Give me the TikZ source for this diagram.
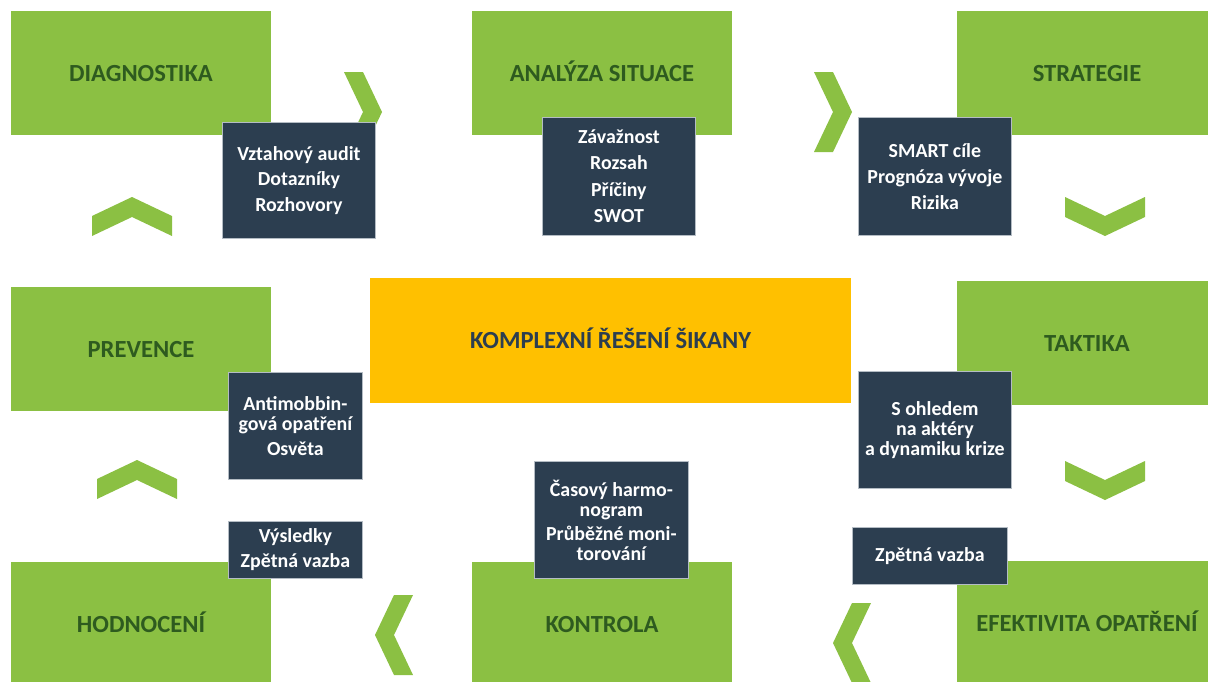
\documentclass[tikz,border=0pt]{standalone}
\usepackage{fontspec}
\setmainfont{Carlito}
\definecolor{zelena}{HTML}{8BC043}
\definecolor{tmava}{HTML}{2C3E50}
\definecolor{zluta}{HTML}{FFC000}
\definecolor{zelenytext}{HTML}{2E5B1F}
\definecolor{okraj}{HTML}{B4BCC4}

\tikzset{
	nadpis/.style={font=\bfseries\fontsize{24.6}{28}\selectfont, text height=16pt, text depth=0pt,
		inner sep=0pt, outer sep=0pt, anchor=north west},
	faze/.style={nadpis, fill=zelena, text=zelenytext, minimum width=260pt, minimum height=124pt},
	detail/.style={fill=tmava, draw=okraj, line width=0.8pt, text=white,
		font=\bfseries\fontsize{19.9}{20}\selectfont, align=center, inner sep=0pt, anchor=north west},
	chevr/.pic={\fill[zelena] (0,0) -- (19,0) -- (38,40) -- (19,80) -- (0,80) -- (19,40) -- cycle;},
	chevd/.pic={\fill[zelena] (0,0) -- (40,19) -- (80,0) -- (80,20) -- (40,39) -- (0,20) -- cycle;}
}

\begin{document}
\begin{tikzpicture}[x=1pt, y=-1pt]
	\useasboundingbox (0,0) rectangle (1208,681);
	\clip (0,0) rectangle (1208,681);
	\fill[white] (0,0) rectangle (1208,681);

	% faze
	\node[faze] (diag) at (11,11) {DIAGNOSTIKA};
	\node[faze] (analyza) at (472,11) {ANALÝZA SITUACE};
	\node[faze] (strategie) at (957,11) {STRATEGIE};
	\node[faze] (taktika) at (957,281) {TAKTIKA};
	\node[faze] (efektivita) at (957,561) {EFEKTIVITA OPATŘENÍ};
	\node[faze] (kontrola) at (472,562) {KONTROLA};
	\node[faze] (hodnoceni) at (11,562) {HODNOCENÍ};
	\node[faze] (prevence) at (11,287) {PREVENCE};

	\node[nadpis, fill=zluta, text=tmava, minimum width=481pt, minimum height=125pt] (stred) at (370,278)
		{KOMPLEXNÍ ŘEŠENÍ ŠIKANY};

	% sipky
	\pic at (344,72) {chevr};
	\pic at (814,72) {chevr};
	\pic at (1065,197) {chevd};
	\pic at (1065,461) {chevd};
	\pic[xscale=-1] at (871,603) {chevr};
	\pic[xscale=-1] at (413,595) {chevr};
	\pic[yscale=-1] at (97,499) {chevd};
	\pic[yscale=-1] at (92,236) {chevd};

	% detaily
	\node[detail, minimum width=153pt, minimum height=116pt] (audit) at (222,122)
		{Vztahový audit\\[5.5pt]Dotazníky\\[5.5pt]Rozhovory};
	\node[detail, minimum width=153pt, minimum height=118pt] (zavaznost) at (542,117)
		{Závažnost\\[6.5pt]Rozsah\\[6.5pt]Příčiny\\[6.5pt]SWOT};
	\node[detail, minimum width=153pt, minimum height=118pt] (smart) at (858,117)
		{SMART cíle\\[6pt]Prognóza vývoje\\[6pt]Rizika};
	\node[detail, minimum width=153pt, minimum height=117pt] (ohled) at (858,371)
		{S ohledem\\na aktéry\\a dynamiku krize};
	\node[detail, minimum width=155pt, minimum height=57pt] (zpetna) at (852,527)
		{Zpětná vazba};
	\node[detail, minimum width=134pt, minimum height=107pt] (antimob) at (228,372)
		{Antimobbin-\\gová opatření\\[5pt]Osvěta};
	\node[detail, minimum width=134pt, minimum height=57pt] (vysledky) at (228,521)
		{Výsledky\\[5pt]Zpětná vazba};
	\node[detail, minimum width=154pt, minimum height=117pt] (casovy) at (534,461)
		{Časový harmo-\\nogram\\[4pt]Průběžné moni-\\torování};
\end{tikzpicture}
\end{document}
